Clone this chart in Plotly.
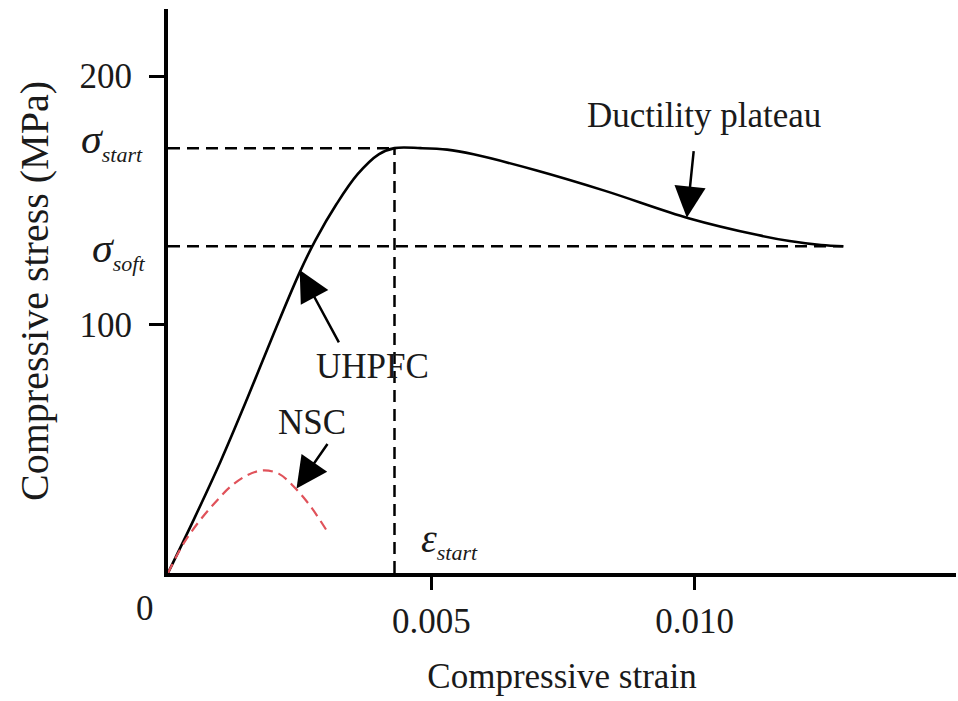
import plotly.graph_objects as go

# ---- data ----
uhpfc_strain = [0.0, 0.0005, 0.0010, 0.0015, 0.0020, 0.0025, 0.0028, 0.0032, 0.0036,
                0.0040, 0.0043, 0.0048, 0.0053, 0.0058, 0.0070, 0.0083,
                0.0099, 0.0112, 0.0118, 0.0124, 0.01282]
uhpfc_stress = [0.0, 22.0, 45.0, 70.0, 96.0, 121.0, 134.0, 148.5, 160.5,
                168.5, 171.0, 171.0, 170.4, 168.5, 162.0, 153.8,
                142.7, 136.0, 133.6, 132.0, 131.5]

nsc_strain = [0.0, 0.0003, 0.0006, 0.0009, 0.0012, 0.0015, 0.0018, 0.0021, 0.0024,
              0.0027, 0.0030]
nsc_stress = [0.0, 12.0, 21.0, 28.5, 35.0, 39.3, 41.3, 40.0, 34.5, 27.0, 17.5]

sigma_start = 171.0
sigma_soft = 131.5
eps_start = 0.00430
strain_end = 0.01282

x_tick_vals = [0.005, 0.010]
y_tick_vals = [100, 200]
x_range = [0.0, 0.01496]
y_range = [0.0, 227.0]

FONT = "Liberation Serif, Times New Roman, serif"
TXT = "#1a1a1a"
DASH = "12px,7px"

fig = go.Figure()

# reference dashed lines
fig.add_trace(go.Scatter(x=[0, eps_start], y=[sigma_start, sigma_start], mode="lines",
                         line=dict(color="black", width=2.5, dash=DASH),
                         showlegend=False, hoverinfo="skip"))
fig.add_trace(go.Scatter(x=[0, strain_end], y=[sigma_soft, sigma_soft], mode="lines",
                         line=dict(color="black", width=2.5, dash=DASH),
                         showlegend=False, hoverinfo="skip"))
fig.add_trace(go.Scatter(x=[eps_start, eps_start], y=[0, sigma_start], mode="lines",
                         line=dict(color="black", width=2.5, dash=DASH),
                         showlegend=False, hoverinfo="skip"))

# curves
fig.add_trace(go.Scatter(x=uhpfc_strain, y=uhpfc_stress, mode="lines", name="UHPFC",
                         line=dict(color="black", width=2.6, shape="spline", smoothing=1.0),
                         showlegend=False))
fig.add_trace(go.Scatter(x=nsc_strain, y=nsc_stress, mode="lines", name="NSC",
                         line=dict(color="#e0525a", width=2.2, dash="10px,6px",
                                   shape="spline", smoothing=1.0),
                         showlegend=False))

ann = []
# text labels
ann.append(dict(x=0.01017, y=184, xref="x", yref="y", text="Ductility plateau",
                showarrow=False, font=dict(family=FONT, size=35, color=TXT)))
ann.append(dict(x=0.00388, y=83.3, xref="x", yref="y", text="UHPFC",
                showarrow=False, font=dict(family=FONT, size=35, color=TXT)))
ann.append(dict(x=0.00273, y=60.6, xref="x", yref="y", text="NSC",
                showarrow=False, font=dict(family=FONT, size=35, color=TXT)))
# arrows
for (xt, yt, ax, ay) in [(0.00985, 143.0, 7, -68), (0.0025, 122.0, 40, 74), (0.00244, 34.0, 32, -46)]:
    ann.append(dict(x=xt, y=yt, xref="x", yref="y", text="", showarrow=True,
                    ax=ax, ay=ay, arrowhead=2, arrowsize=2.5, arrowwidth=2.5,
                    arrowcolor="black", standoff=0, startstandoff=0))
# sigma / epsilon labels
SUB = '<sub><i><span style="font-size:22px">{}</span></i></sub>'
ann.append(dict(x=-0.029, y=sigma_start, xref="paper", yref="y",
                text="<i>σ</i>" + SUB.format("start"), showarrow=False,
                xanchor="right", yanchor="middle", yshift=7,
                font=dict(family=FONT, size=42, color=TXT)))
ann.append(dict(x=-0.027, y=sigma_soft, xref="paper", yref="y",
                text="<i>σ</i>" + SUB.format("soft"), showarrow=False,
                xanchor="right", yanchor="middle", yshift=-4,
                font=dict(family=FONT, size=42, color=TXT)))
ann.append(dict(x=eps_start, y=0, xref="x", yref="y",
                text="<i>ε</i>" + SUB.format("start"), showarrow=False,
                xanchor="left", yanchor="bottom", xshift=24, yshift=6,
                font=dict(family=FONT, size=40, color=TXT)))
# corner zero
ann.append(dict(x=0, y=0, xref="x", yref="y", text="0", showarrow=False,
                xanchor="right", yanchor="top", xshift=-12, yshift=-14,
                font=dict(family=FONT, size=35, color=TXT)))

fig.update_layout(
    width=958, height=701,
    margin=dict(l=168, r=2, t=9, b=128),
    paper_bgcolor="white", plot_bgcolor="white",
    font=dict(family=FONT, size=35, color=TXT),
    annotations=ann,
    xaxis=dict(range=x_range, tickvals=x_tick_vals, tickformat=".3f",
               showgrid=False, zeroline=False, showline=True, linecolor="black",
               linewidth=4, ticks="outside", ticklen=13, tickwidth=2.5, tickcolor="black",
               ticklabelstandoff=1,
               title=dict(text="Compressive strain", standoff=24,
                          font=dict(family=FONT, size=35, color=TXT))),
    yaxis=dict(range=y_range, tickvals=y_tick_vals,
               showgrid=False, zeroline=False, showline=True, linecolor="black",
               linewidth=4, ticks="outside", ticklen=15, tickwidth=2.5, tickcolor="black",
               ticklabelstandoff=10,
               title=dict(text="Compressive stress (MPa)", standoff=20,
                          font=dict(family=FONT, size=40, color=TXT))),
)

fig.write_html("out.html", config={"displayModeBar": False},
               post_script="document.body.style.margin='0';")
